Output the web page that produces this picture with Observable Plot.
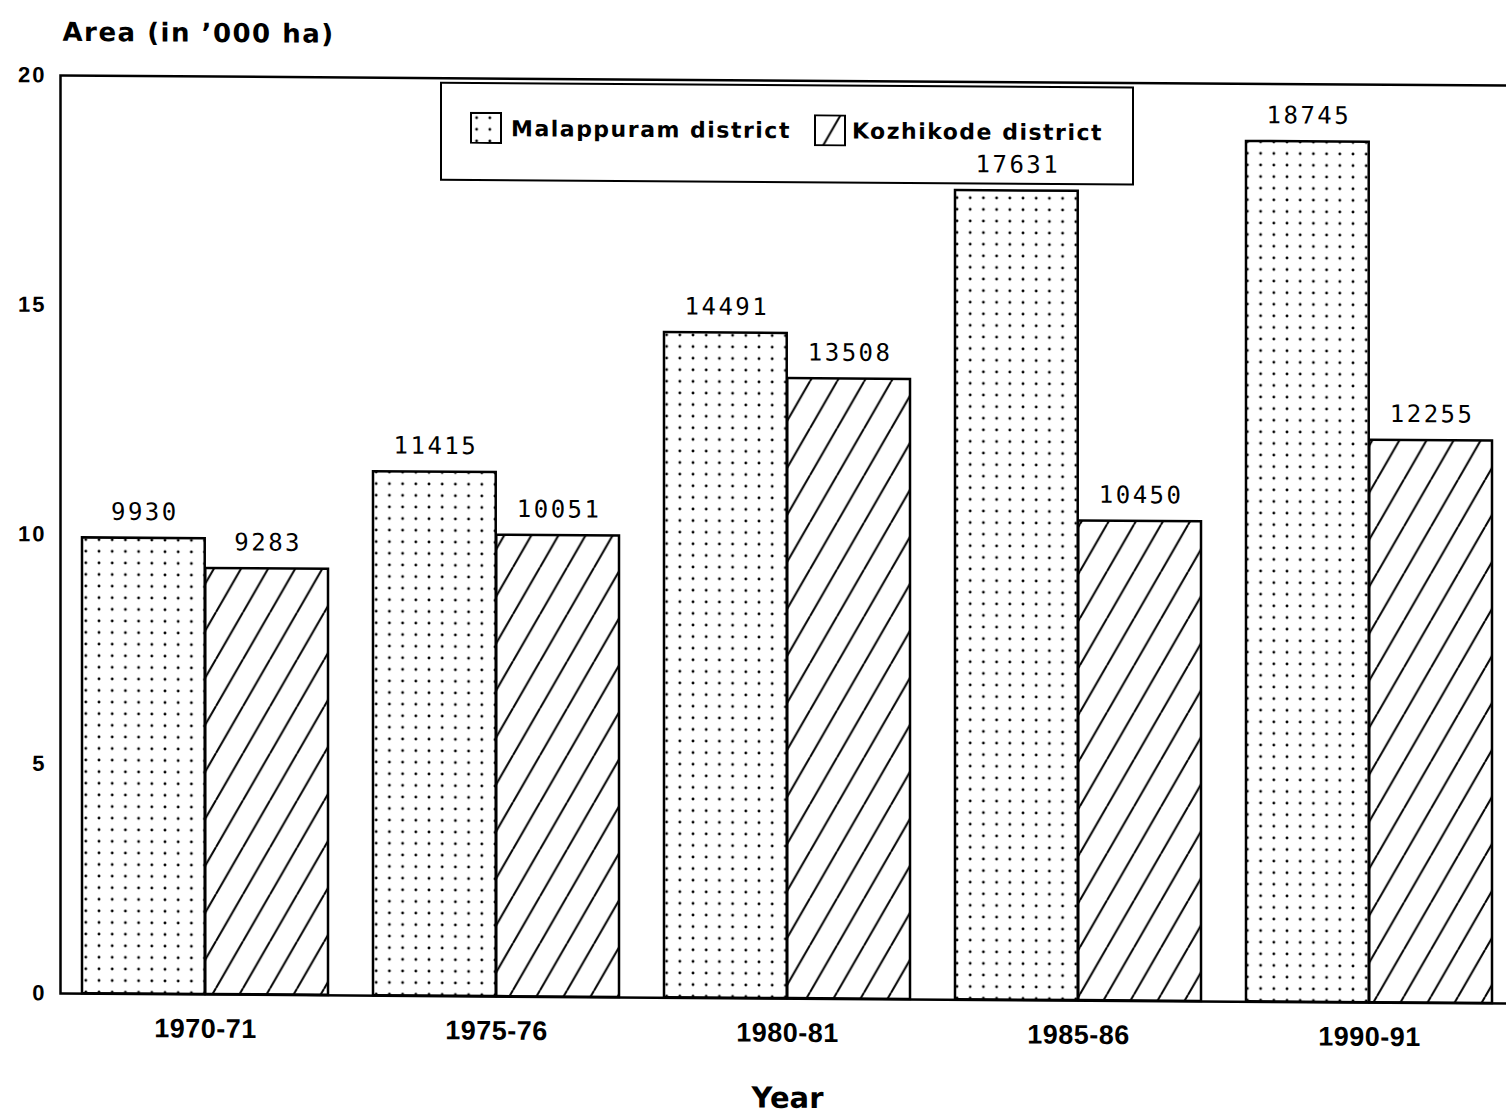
<!DOCTYPE html>
<html>
<head>
<meta charset="utf-8">
<script src="https://cdn.jsdelivr.net/npm/d3@7"></script>
<script src="https://cdn.jsdelivr.net/npm/@observablehq/plot@0.6"></script>
<style>
html, body { margin: 0; padding: 0; background: #fff; overflow: hidden; }
#wrap { position: relative; width: 1506px; height: 1117px; overflow: hidden; background: #fff; }
#chart { position: absolute; left: 0; top: 0; width: 1520px; height: 1117px; transform: skewY(0.4deg); transform-origin: 60px 75px; }
#legend { position: absolute; left: 440px; top: 79px; width: 694px; height: 99px; border: 2px solid #000; box-sizing: border-box;
  display: flex; flex-direction: row; align-items: flex-start; padding: 28px 0 0 28px; flex-wrap: nowrap;
  font-family: "DejaVu Sans"; font-weight: bold; font-size: 22px; letter-spacing: 1.5px; color: #000; background: transparent; }
#legend .item { display: flex; align-items: center; height: 32px; }
#legend svg { display: block; }
text[aria-label="value"] { letter-spacing: 2.5px; }
g[aria-label="y-axis tick label"] text { letter-spacing: 2px; }
g[aria-label="x-axis tick label"] text { letter-spacing: 0.5px; }
text[aria-label="title"] { letter-spacing: 1.5px; }
</style>
</head>
<body>
<svg width="0" height="0" style="position:absolute;left:0;top:0">
  <defs>
    <pattern id="dots" patternUnits="userSpaceOnUse" width="13.2" height="11.6">
      <circle cx="6.6" cy="5.8" r="1.4" fill="#000"/>
    </pattern>
    <pattern id="hatch" patternUnits="userSpaceOnUse" width="27" height="47">
      <path d="M-27,47L0,0M0,47L27,0M27,47L54,0" stroke="#000" stroke-width="2" fill="none"/>
    </pattern>
  </defs>
</svg>
<div id="wrap"><div id="chart"></div></div>
<script>
// ---- data ----
const years = ["1970-71", "1975-76", "1980-81", "1985-86", "1990-91"];
const malappuram = [9930, 11415, 14491, 17631, 18745];   // ha
const kozhikode = [9283, 10051, 13508, 10450, 12255];    // ha
const seriesNames = ["Malappuram district", "Kozhikode district"];
const yTicks = [0, 5, 10, 15, 20];
const titleText = "Area (in \u2019000 ha)";
const xTitle = "Year";

// ---- layout ----
const W = 1520, ML = 60, MR = 6, PI = 0.155, PO = 0.069;
const step = (W - ML - MR) / (years.length - PI + 2 * PO);
const bw = step * (1 - PI);

const rowsM = years.map((y, i) => ({year: y, v: malappuram[i]}));
const rowsK = years.map((y, i) => ({year: y, v: kozhikode[i]}));

const labelStyle = {fontFamily: "DejaVu Sans Mono", fontSize: 24, fill: "#000", lineAnchor: "middle", dy: -26, ariaLabel: () => "value"};

const chart = Plot.plot({
  width: W,
  height: 1117,
  marginLeft: ML,
  marginRight: MR,
  marginTop: 75,
  marginBottom: 124,
  style: {background: "transparent", color: "#000", overflow: "visible"},
  x: {domain: years, paddingInner: PI, paddingOuter: PO, axis: null},
  y: {domain: [0, 20], axis: null},
  marks: [
    Plot.barY(rowsM, {x: "year", y: d => d.v / 1000, insetRight: bw / 2, fill: "url(#dots)", stroke: "#000", strokeWidth: 2.5}),
    Plot.barY(rowsK, {x: "year", y: d => d.v / 1000, insetLeft: bw / 2, fill: "url(#hatch)", stroke: "#000", strokeWidth: 2.5}),
    Plot.text(rowsM, {x: "year", y: d => d.v / 1000, text: d => String(d.v), dx: -bw / 4 + 1, ...labelStyle}),
    Plot.text(rowsK, {x: "year", y: d => d.v / 1000, text: d => String(d.v), dx: bw / 4 + 1, ...labelStyle}),
    Plot.frame({stroke: "#000", strokeWidth: 2.5}),
    Plot.axisY({ticks: yTicks, tickSize: 0, tickPadding: 14, label: null, fontFamily: "Liberation Sans", fontWeight: "bold", fontSize: 22, fill: "#000"}),
    Plot.axisX({tickSize: 0, tickPadding: 24, label: null, fontFamily: "Liberation Sans", fontWeight: "bold", fontSize: 27, fill: "#000"}),
    Plot.text([titleText], {frameAnchor: "top-left", textAnchor: "start", lineAnchor: "middle", dx: 2, dy: -43,
      fontFamily: "DejaVu Sans", fontWeight: "bold", fontSize: 26, fill: "#000", ariaLabel: () => "title"}),
    Plot.text([xTitle], {frameAnchor: "bottom", lineAnchor: "middle", dy: 100,
      fontFamily: "DejaVu Sans", fontWeight: "bold", fontSize: 29, fill: "#000"})
  ]
});

const holder = document.getElementById("chart");
holder.appendChild(chart);

// ---- legend ----
const legend = document.createElement("div");
legend.id = "legend";
const swatchFills = ["url(#dots)", "url(#hatch)"];
const gaps = [[0, 9], [23, 6]];
seriesNames.forEach((name, i) => {
  const item = document.createElement("div");
  item.className = "item";
  item.style.marginLeft = gaps[i][0] + "px";
  const ns = "http://www.w3.org/2000/svg";
  const s = document.createElementNS(ns, "svg");
  s.setAttribute("width", 32); s.setAttribute("height", 32);
  const r = document.createElementNS(ns, "rect");
  r.setAttribute("x", 1); r.setAttribute("y", 1); r.setAttribute("width", 30); r.setAttribute("height", 30);
  r.setAttribute("fill", swatchFills[i]); r.setAttribute("stroke", "#000"); r.setAttribute("stroke-width", 2);
  s.appendChild(r);
  item.appendChild(s);
  const t = document.createElement("span");
  t.textContent = name;
  t.style.marginLeft = gaps[i][1] + "px";
  item.appendChild(t);
  legend.appendChild(item);
});
holder.appendChild(legend);
</script>
</body>
</html>
